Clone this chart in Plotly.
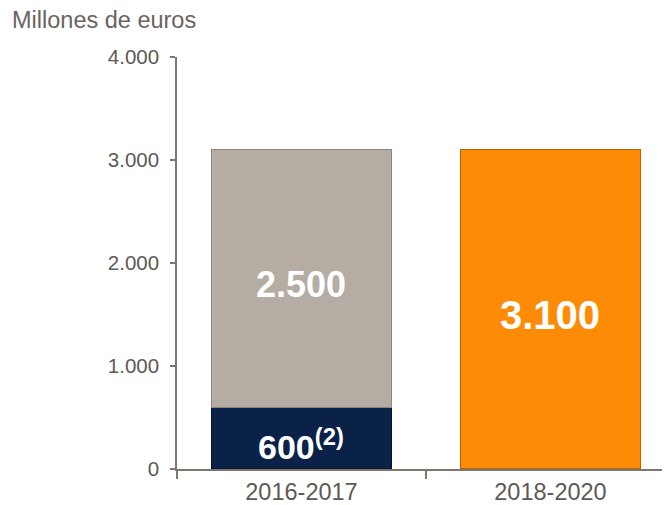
import plotly.graph_objects as go

categories = ["2016-2017", "2018-2020"]
navy_values = [600, None]
gray_values = [2500, None]
orange_values = [None, 3100]
navy_labels = ["600<sup>(2)</sup>", ""]
gray_labels = ["2.500", ""]
orange_labels = ["", "3.100"]
y_ticks = [0, 1000, 2000, 3000, 4000]
y_tick_labels = ["0", "1.000", "2.000", "3.000", "4.000"]

fig = go.Figure()
series = [
    (navy_values, navy_labels, "#0b2248", "#06152e", 34),
    (gray_values, gray_labels, "#b5aca3", "#8e867e", 36),
    (orange_values, orange_labels, "#fd8b05", "#b86200", 40),
]
base = [0] * len(categories)
annotations = []
for vals, labels, color, line, fsize in series:
    fig.add_trace(go.Bar(x=categories, y=vals, width=0.72, hoverinfo="skip",
                         marker=dict(color=color, line=dict(color=line, width=1.2))))
    for i, (v, lab) in enumerate(zip(vals, labels)):
        if v and lab:
            annotations.append(dict(x=categories[i], y=base[i] + v / 2, text=lab,
                                    showarrow=False, yshift=-6,
                                    font=dict(family="Liberation Sans", size=fsize,
                                              color="white", weight="bold")))
        base[i] += v or 0

annotations.append(dict(text="Millones de euros", xref="paper", yref="paper",
                        x=-167/493, y=1 + 37/412, xanchor="left", yanchor="middle",
                        showarrow=False, font=dict(size=23.5, color="#6b635e")))

fig.update_layout(
    barmode="stack",
    width=662, height=497,
    margin=dict(l=169, r=0, t=49, b=36),
    paper_bgcolor="white", plot_bgcolor="white",
    showlegend=False,
    font=dict(family="Liberation Sans", color="#5f5955"),
    annotations=annotations,
)
fig.update_xaxes(
    range=[-0.5, 1.48], type="category", automargin=False,
    showline=True, linecolor="#7f766f", linewidth=1.5,
    ticks="outside", tickson="boundaries", ticklen=8, tickcolor="#7f766f", tickwidth=1.5,
    tickfont=dict(size=23.5, color="#5f5955"), showgrid=False, ticklabelstandoff=1,
)
fig.update_yaxes(
    range=[0, 4000], tickvals=y_ticks, ticktext=y_tick_labels, automargin=False,
    showline=True, linecolor="#7f766f", linewidth=1.5,
    ticks="outside", ticklen=5, tickcolor="#7f766f", tickwidth=1.5,
    tickfont=dict(size=20.5, color="#5f5955"), showgrid=False, zeroline=False,
    ticklabelstandoff=7,
)

fig.write_html("out.html")
